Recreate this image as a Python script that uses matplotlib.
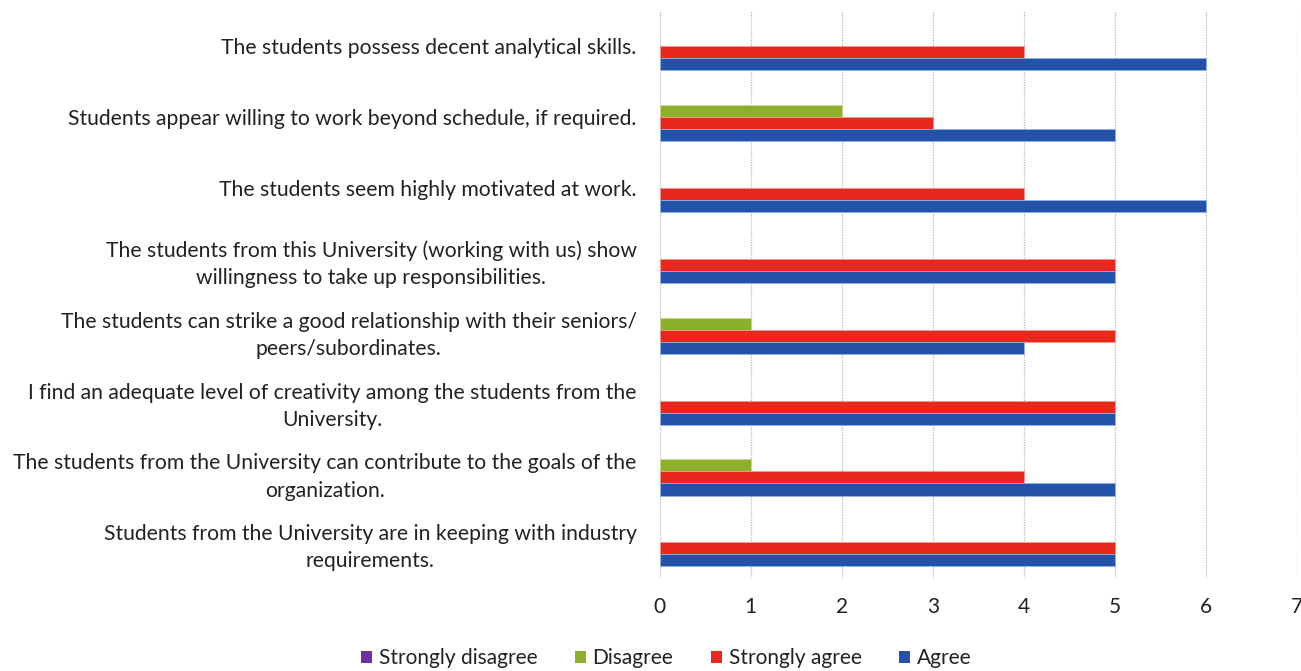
import matplotlib
matplotlib.use("Agg")
import matplotlib.pyplot as plt
import numpy as np

categories = [
    "The students possess decent analytical skills.",
    "Students appear willing to work beyond schedule, if required.",
    "The students seem highly motivated at work.",
    "The students from this University (working with us) show\nwillingness to take up responsibilities.",
    "The students can strike a good relationship with their seniors/\npeers/subordinates.",
    "I find an adequate level of creativity among the students from the\nUniversity.",
    "The students from the University can contribute to the goals of the\norganization.",
    "Students from the University are in keeping with industry\nrequirements.",
]
series_names = ["Strongly disagree", "Disagree", "Strongly agree", "Agree"]
strongly_disagree = [0, 0, 0, 0, 0, 0, 0, 0]
disagree = [0, 2, 0, 0, 1, 0, 1, 0]
strongly_agree = [4, 3, 4, 5, 5, 5, 4, 5]
agree = [6, 5, 6, 5, 4, 5, 5, 5]
x_ticks = [0, 1, 2, 3, 4, 5, 6, 7]

colors = ["#7030A0", "#8DB02A", "#E8281C", "#2352A8"]
edges = ["#B090D0", "#C8DA90", "#F49A90", "#8FB4E6"]

plt.rcParams['font.family'] = ['Lato', 'DejaVu Sans']

fig = plt.figure(figsize=(13.01, 6.71), dpi=100)
ax = fig.add_axes([0.507, 0.139, 0.49, 0.845])

y = np.arange(len(categories))
h = 0.17
data = [strongly_disagree, disagree, strongly_agree, agree]
for k, (vals, name, c, e) in enumerate(zip(data, series_names, colors, edges)):
    lw = [0.6 if v > 0 else 0 for v in vals]
    ax.barh(y + (k - 1.5) * h, vals, height=h, color=c, edgecolor=e,
            linewidth=lw, label=name, zorder=3)

ax.set_xlim(0, 7)
ax.set_ylim(len(categories) - 0.5, -0.5)
ax.set_xticks(x_ticks)
ax.set_xticklabels([str(t) for t in x_ticks], fontsize=15, color="#222222")
ax.set_yticks(y)
ax.set_yticklabels(categories, fontsize=15.2, color="#222222")
for lab in ax.get_yticklabels():
    lab.set_multialignment('center')
    lab.set_linespacing(1.45)
ax.tick_params(axis='both', length=0)
ax.tick_params(axis='x', pad=14)
ax.tick_params(axis='y', pad=16.5)
ax.xaxis.grid(True, color="#b8b8b8", linestyle=(0, (1, 1)), linewidth=0.9, zorder=0)
ax.set_axisbelow(True)
for s in ax.spines.values():
    s.set_visible(False)

handles, labels = ax.get_legend_handles_labels()
leg = fig.legend(handles, labels, loc='lower center', bbox_to_anchor=(0.512, -0.024),
                 ncol=4, frameon=False, fontsize=15, handlelength=0.55, handleheight=0.55,
                 handletextpad=0.3, columnspacing=1.8)
for t in leg.get_texts():
    t.set_color("#222222")
for p in leg.get_patches():
    p.set_linewidth(0)

fig.savefig("out.png", dpi=100)
